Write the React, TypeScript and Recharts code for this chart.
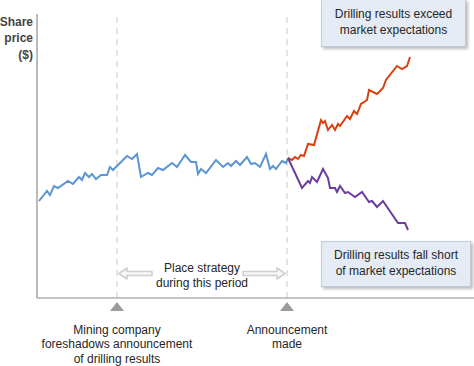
import React from 'react';
import { LineChart, Line, XAxis, YAxis, ReferenceLine, ReferenceArea } from 'recharts';

// Time (days from chart start) and share price (arbitrary $ units)
const baseDays = [2, 10, 13, 17, 21, 31, 36, 42, 45, 48, 52, 55, 59, 64, 70, 73, 76, 90, 95, 100, 104, 111, 115, 121, 126, 135, 140, 148, 154, 159, 161, 164, 169, 179, 186, 191, 194, 199, 203, 210, 214, 218, 223, 229, 233, 236, 239, 245, 249, 251];
const basePrices = [97, 107, 103, 112, 110, 117, 114, 121, 118, 125, 121, 124, 119, 123, 123, 131, 128, 142, 139, 144, 121, 125, 123, 130, 128, 135, 131, 143, 136, 136, 124, 129, 125, 138, 131, 135, 132, 137, 133, 141, 134, 135, 131, 144, 129, 132, 129, 137, 135, 140];

const exceedDays = [251, 255, 258, 261, 264, 267, 271, 277, 284, 286, 288, 291, 295, 298, 301, 303, 310, 313, 317, 320, 324, 330, 332, 340, 346, 349, 360, 365, 370, 373];
const exceedPrices = [140, 138, 141, 139, 143, 142, 154, 153, 178, 175, 177, 168, 173, 168, 174, 172, 182, 179, 187, 184, 194, 198, 208, 204, 210, 218, 232, 229, 232, 241];

const shortDays = [251, 265, 271, 273, 275, 280, 286, 291, 293, 298, 300, 303, 308, 311, 318, 325, 332, 335, 340, 346, 361, 368, 371];
const shortPrices = [140, 110, 117, 115, 121, 116, 129, 120, 110, 110, 106, 112, 105, 106, 101, 106, 96, 97, 91, 97, 75, 75, 68];

const xDomain = [0, 437];
const yDomain = [0, 284];

const foreshadowDay = 80;
const announceDay = 250;

const yAxisTitle = ['Share', 'price', '($)'];
const foreshadowLabel = ['Mining company', 'foreshadows announcement', 'of drilling results'];
const announceLabel = ['Announcement', 'made'];
const strategyLabel = ['Place strategy', 'during this period'];
const exceedLabel = ['Drilling results exceed', 'market expectations'];
const shortLabel = ['Drilling results fall short', 'of market expectations'];

const toRows = (days: number[], prices: number[]) => days.map((d, i) => ({ day: d, price: prices[i] }));
const baseData = toRows(baseDays, basePrices);
const exceedData = toRows(exceedDays, exceedPrices);
const shortData = toRows(shortDays, shortPrices);

const FONT = '"Liberation Sans", Arial, sans-serif';
const TEXT = '#262626';

const EventMarker = (props: any) => {
  const vb = props.viewBox || {};
  const cx = vb.x;
  const by = vb.y + vb.height;
  const lines: string[] = props.lines;
  return (
    <g>
      <path d={`M${cx} ${by + 4} L${cx + 7} ${by + 13} L${cx - 7} ${by + 13} Z`} fill="#9b9b9b" />
      <text x={cx} y={by + 35.5} textAnchor="middle" fontFamily={FONT} fontSize={12} fill={TEXT}>
        {lines.map((l, i) => (
          <tspan key={i} x={cx} dy={i === 0 ? 0 : 14.5}>{l}</tspan>
        ))}
      </text>
    </g>
  );
};

const AxisTitle = (props: any) => {
  const vb = props.viewBox || {};
  const x = vb.x - 4;
  return (
    <text x={x} y={26} textAnchor="end" fontFamily={FONT} fontSize={12} fontWeight="bold" fill="#444">
      {yAxisTitle.map((l, i) => (
        <tspan key={i} x={x} dy={i === 0 ? 0 : 16.3}>{l}</tspan>
      ))}
    </text>
  );
};

const StrategyArrow = (props: any) => {
  const vb = props.viewBox || {};
  const x1 = vb.x;
  const x2 = vb.x + vb.width;
  const yc = vb.y + vb.height - 24.5;
  const cx = (x1 + x2) / 2;
  const hh = 5.5;
  const sh = 2;
  const lt = x1 + 2, lh = x1 + 10, ls = x1 + 35;
  const rt = x2 - 2, rh = x2 - 10, rs = x2 - 44;
  const left = `M${lt} ${yc} L${lh} ${yc - hh} L${lh} ${yc - sh} L${ls} ${yc - sh} L${ls} ${yc + sh} L${lh} ${yc + sh} L${lh} ${yc + hh} Z`;
  const right = `M${rt} ${yc} L${rh} ${yc - hh} L${rh} ${yc - sh} L${rs} ${yc - sh} L${rs} ${yc + sh} L${rh} ${yc + sh} L${rh} ${yc + hh} Z`;
  return (
    <g>
      <path d={left} fill="#f7f7f7" stroke="#cfcfcf" strokeWidth={1.6} strokeLinejoin="round" />
      <path d={right} fill="#f7f7f7" stroke="#cfcfcf" strokeWidth={1.6} strokeLinejoin="round" />
      <text x={cx} y={yc - 2} textAnchor="middle" fontFamily={FONT} fontSize={12} fill={TEXT}>
        {strategyLabel.map((l, i) => (
          <tspan key={i} x={cx} dy={i === 0 ? 0 : 15.4}>{l}</tspan>
        ))}
      </text>
    </g>
  );
};

const boxStyle = (left: number, top: number, width: number, height: number): React.CSSProperties => ({
  position: 'absolute',
  left,
  top,
  width,
  height,
  boxSizing: 'border-box',
  background: '#e5ebf4',
  border: '1px solid #c2cad7',
  boxShadow: '2px 2px 3px rgba(0,0,0,0.28)',
  display: 'flex',
  flexDirection: 'column',
  alignItems: 'center',
  justifyContent: 'center',
  fontFamily: FONT,
  fontSize: 12,
  lineHeight: '15.6px',
  color: TEXT,
  textAlign: 'center',
});

export default function App() {
  return (
    <div style={{ position: 'absolute', left: 0, top: 0, width: 474, height: 366, background: '#fff' }}>
      <LineChart
        width={474}
        height={366}
        margin={{ top: 14, right: 0, bottom: 68, left: 37 }}
      >
        <XAxis type="number" dataKey="day" domain={xDomain} hide allowDataOverflow />
        <YAxis type="number" dataKey="price" domain={yDomain} hide allowDataOverflow />
        <ReferenceArea x1={foreshadowDay} x2={announceDay} fill="none" fillOpacity={0} stroke="none"
          label={(p: any) => <StrategyArrow {...p} />} />
        <ReferenceLine x={foreshadowDay} stroke="#c8c8c8" strokeDasharray="6 5"
          label={(p: any) => <EventMarker {...p} lines={foreshadowLabel} />} />
        <ReferenceLine x={announceDay} stroke="#c8c8c8" strokeDasharray="6 5"
          label={(p: any) => <EventMarker {...p} lines={announceLabel} />} />
        <ReferenceLine x={0} stroke="#8c8c8c" strokeWidth={1.2}
          label={(p: any) => <AxisTitle {...p} />} />
        <ReferenceLine y={0} stroke="#8c8c8c" strokeWidth={1.2} />
        <Line data={baseData} dataKey="price" stroke="#5b95d2" strokeWidth={2} dot={false} isAnimationActive={false} type="linear" />
        <Line data={exceedData} dataKey="price" stroke="#d8400f" strokeWidth={2} dot={false} isAnimationActive={false} type="linear" />
        <Line data={shortData} dataKey="price" stroke="#6a3d9e" strokeWidth={2} dot={false} isAnimationActive={false} type="linear" />
      </LineChart>
      <div style={boxStyle(321, -1, 145, 48)}>
        {exceedLabel.map((l, i) => <div key={i}>{l}</div>)}
      </div>
      <div style={boxStyle(321, 241, 150, 46)}>
        {shortLabel.map((l, i) => <div key={i}>{l}</div>)}
      </div>
    </div>
  );
}
